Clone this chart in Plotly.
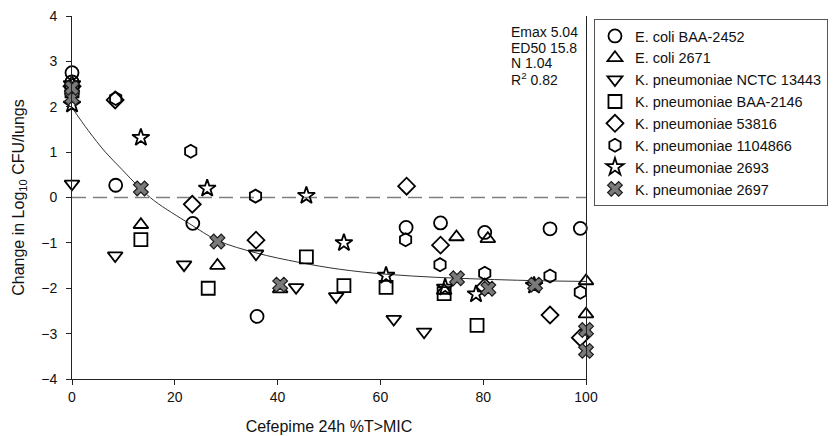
import plotly.graph_objects as go

# ---- data ----
ecoli_2452_x = [0, 0, 8.5, 23.5, 36, 65, 71.7, 80.3, 93, 98.9]
ecoli_2452_y = [2.75, 2.55, 0.27, -0.57, -2.62, -0.66, -0.56, -0.77, -0.69, -0.68]

ecoli_2671_x = [0, 13.4, 28.3, 40.5, 72.4, 74.8, 80.9, 100, 100]
ecoli_2671_y = [2.4, -0.6, -1.5, -2.02, -2.05, -0.87, -0.91, -1.84, -2.57]

kp_13443_x = [0, 8.4, 21.8, 35.8, 43.6, 51.4, 62.6, 68.5]
kp_13443_y = [0.3, -1.28, -1.48, -1.24, -1.98, -2.18, -2.68, -2.96]

kp_2146_x = [0, 13.4, 26.5, 45.6, 52.9, 61.1, 72.4, 78.8]
kp_2146_y = [2.35, -0.93, -2.0, -1.31, -1.94, -1.98, -2.12, -2.82]

kp_53816_x = [0, 8.4, 23.4, 35.8, 65.1, 71.7, 80.3, 93.0, 98.9]
kp_53816_y = [2.45, 2.15, -0.15, -0.94, 0.25, -1.05, -1.97, -2.59, -3.09]

kp_1104866_x = [0, 8.5, 23.1, 35.7, 64.9, 71.6, 80.3, 93.0, 98.9]
kp_1104866_y = [2.3, 2.18, 1.02, 0.03, -0.93, -1.48, -1.67, -1.73, -2.09]

kp_2693_x = [0, 0, 13.4, 26.3, 45.6, 52.9, 61.1, 72.6, 78.6, 89.9]
kp_2693_y = [2.05, 2.5, 1.32, 0.2, 0.04, -1.0, -1.72, -1.98, -2.13, -1.94]

kp_2697_x = [0, 0, 13.4, 28.3, 40.5, 74.9, 81.0, 90.1, 100, 100]
kp_2697_y = [2.2, 2.42, 0.2, -0.97, -1.92, -1.78, -2.01, -1.92, -2.92, -3.38]

fit_x = [0, 3.2, 6.5, 9.7, 13.2, 16.1, 22.9, 28.4, 35.8, 44.2, 52, 61, 71, 80, 89, 100]
fit_y = [1.98, 1.47, 1.0, 0.62, 0.21, -0.08, -0.58, -0.95, -1.22, -1.43, -1.58, -1.69, -1.76, -1.80, -1.83, -1.85]

x_ticks = [0, 20, 40, 60, 80, 100]
y_ticks = [-4, -3, -2, -1, 0, 1, 2, 3, 4]

series = [
    ("E. coli BAA-2452", ecoli_2452_x, ecoli_2452_y, "circle-open"),
    ("E. coli 2671", ecoli_2671_x, ecoli_2671_y, "triangle-up-open"),
    ("K. pneumoniae NCTC 13443", kp_13443_x, kp_13443_y, "triangle-down-open"),
    ("K. pneumoniae BAA-2146", kp_2146_x, kp_2146_y, "square-open"),
    ("K. pneumoniae 53816", kp_53816_x, kp_53816_y, "diamond-open"),
    ("K. pneumoniae 1104866", kp_1104866_x, kp_1104866_y, "hexagon-open"),
    ("K. pneumoniae 2693", kp_2693_x, kp_2693_y, "star-open"),
    ("K. pneumoniae 2697", kp_2697_x, kp_2697_y, "x"),
]

FONT = "Liberation Sans, Arial, sans-serif"

fig = go.Figure()

fig.add_trace(go.Scatter(x=fit_x, y=fit_y, mode="lines", line=dict(color="#333333", width=1, shape="spline"),
                         showlegend=False, hoverinfo="skip"))

for name, xs, ys, sym in series:
    if sym == "x":
        marker = dict(symbol="x", size=13, color="#7a7a7a", line=dict(color="#1a1a1a", width=1.2))
    else:
        marker = dict(symbol=sym, size=13, color="black", line=dict(color="black", width=1.8))
    fig.add_trace(go.Scatter(x=xs, y=ys, mode="markers", name=name, marker=marker, cliponaxis=False))

fig.add_shape(type="line", x0=0, x1=100, y0=0, y1=0, xref="x", yref="y",
              line=dict(color="#7f7f7f", width=1.6, dash="14px,7px"), layer="below")

ann_lines = ["Emax 5.04", "ED50 15.8", "N 1.04", "R<sup>2</sup> 0.82"]
ann_y = [32, 47.5, 63, 79]
for t, py in zip(ann_lines, ann_y):
    fig.add_annotation(text=t, xref="paper", yref="paper", x=(511 - 72) / 516, y=(379 - py) / 363,
                       xanchor="left", yanchor="middle", showarrow=False,
                       font=dict(family=FONT, size=14, color="#111111"))

# page body has an 8px default margin, so the figure is sized to fit the window
fig.update_layout(
    width=828, height=428,
    margin=dict(l=64, r=248, t=8, b=57),
    paper_bgcolor="white", plot_bgcolor="white",
    font=dict(family=FONT, size=14, color="#111111"),
    legend=dict(x=(596 - 72) / 516, y=(379 - 19) / 363, xanchor="left", yanchor="top",
                bordercolor="#555555", borderwidth=1, bgcolor="white",
                font=dict(family=FONT, size=14.5, color="#111111"), tracegroupgap=0),
    xaxis=dict(range=[0, 100], tickvals=x_ticks, ticks="outside", ticklen=5, tickcolor="#222",
               showline=True, linecolor="#222", linewidth=1, showgrid=False, zeroline=False,
               automargin=False, ticklabeloverflow="allow",
               title=dict(text="Cefepime 24h %T>MIC", font=dict(size=16), standoff=17)),
    yaxis=dict(range=[-4, 4], tickvals=y_ticks, ticks="outside", ticklen=5, tickcolor="#222",
               showline=True, linecolor="#222", linewidth=1, mirror=True, showgrid=False, zeroline=False,
               automargin=False, ticklabelstandoff=6, ticklabeloverflow="allow",
               title=dict(text="Change in Log<sub>10</sub> CFU/lungs", font=dict(size=16), standoff=12)),
)

fig.write_html("out.html")
